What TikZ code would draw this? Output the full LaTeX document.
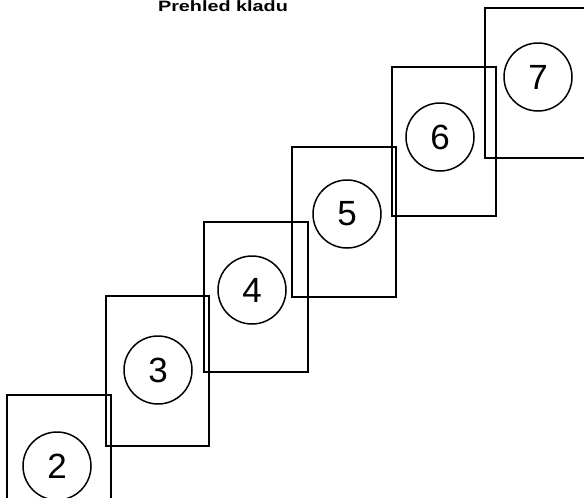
\documentclass[tikz,border=0pt]{standalone}
\usepackage{fontspec}
\setmainfont{Liberation Sans}
\begin{document}
\begin{tikzpicture}[x=1pt,y=-1pt,
  panel/.style={draw=black,line width=1.6pt},
  num/.style={circle,draw=black,line width=1.5pt,minimum size=68pt,inner sep=0pt,
    font=\fontsize{35}{40}\selectfont},
  title/.style={font=\fontsize{15}{18}\selectfont\bfseries,inner sep=0pt,xscale=1.32}]
\useasboundingbox (0,0) rectangle (584,498);
% panels (top-left corner, width 104, height 150)
\draw[panel] (7,395) rectangle ++(104,150);
\draw[panel] (106,296) rectangle ++(103,150);
\draw[panel] (204,222) rectangle ++(104,150);
\draw[panel] (292,147) rectangle ++(104,150);
\draw[panel] (392,67) rectangle ++(104,149);
\draw[panel] (485,8) rectangle ++(110,150);
% numbered circles
\node[num] (n2) at (57,466) {2};
\node[num] (n3) at (158,370) {3};
\node[num] (n4) at (252,290) {4};
\node[num] (n5) at (347,214) {5};
\node[num] (n6) at (440,137) {6};
\node[num] (n7) at (538,77) {7};
% title
\node[title,anchor=base] (t) at (223,11.5) {Prehled kladu};
\end{tikzpicture}
\end{document}
